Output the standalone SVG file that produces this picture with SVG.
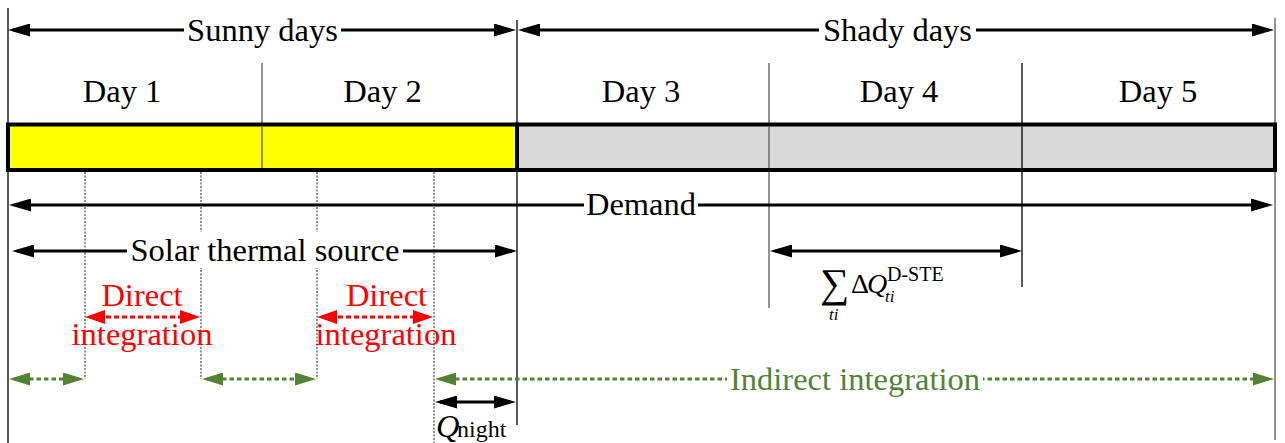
<svg xmlns="http://www.w3.org/2000/svg" width="1285" height="443" viewBox="0 0 1285 443">
  <style>
    .t { font-family: "Liberation Serif", "Times New Roman", serif; font-size: 32.5px; fill: #000; }
    .red { fill: #ff0000; }
    .grn { fill: #548235; }
    .mid { text-anchor: middle; }
    .it { font-style: italic; }
    .bg { fill: #fff; }
    .edge { stroke: #000; stroke-width: 1.3; fill: none; }
    .div { stroke: #595959; stroke-width: 1.3; fill: none; }
    .dot { stroke: #222; stroke-width: 1; stroke-dasharray: 2 1.5; fill: none; }
    .blk { stroke: #000; stroke-width: 3; fill: none; marker-start: url(#ahBlack); marker-end: url(#ahBlack); }
    .rdl { stroke: #ff0000; stroke-width: 3.2; stroke-dasharray: 5 3; fill: none; marker-start: url(#ahRed); marker-end: url(#ahRed); }
    .gnl { stroke: #548235; stroke-width: 3; stroke-dasharray: 4.5 3; fill: none; marker-start: url(#ahGreen); marker-end: url(#ahGreen); }
    .sig { font-size: 41px; }
    .big { font-size: 28px; }
    .sub { font-size: 17px; }
    .sup { font-size: 20px; }
    .nt { font-size: 24px; }
  </style>
  <defs>
    <marker id="ahBlack" markerUnits="userSpaceOnUse" markerWidth="22" markerHeight="13" refX="17" refY="6.5" orient="auto-start-reverse">
      <path d="M0,0 L22,6.5 L0,13 z" fill="#000"/>
    </marker>
    <marker id="ahRed" markerUnits="userSpaceOnUse" markerWidth="20" markerHeight="14" refX="15" refY="7" orient="auto-start-reverse">
      <path d="M0,0 L20,7 L0,14 z" fill="#ff0000"/>
    </marker>
    <marker id="ahGreen" markerUnits="userSpaceOnUse" markerWidth="21" markerHeight="13" refX="16" refY="6.5" orient="auto-start-reverse">
      <path d="M0,0 L21,6.5 L0,13 z" fill="#548235"/>
    </marker>
  </defs>

  <!-- boundary and day lines -->
  <g id="guides">
    <line class="edge" x1="8" y1="8" x2="8" y2="443"/>
    <line class="edge" x1="517" y1="20" x2="517" y2="425"/>
    <line class="div" x1="1275" y1="18" x2="1275" y2="440"/>
    <line class="div" x1="262" y1="63" x2="262" y2="170"/>
    <line class="div" x1="769" y1="63" x2="769" y2="308"/>
    <line class="edge" x1="1022" y1="63" x2="1022" y2="287"/>
    <line class="dot" x1="85" y1="172" x2="85" y2="379"/>
    <line class="dot" x1="201" y1="172" x2="201" y2="379"/>
    <line class="dot" x1="317" y1="172" x2="317" y2="379"/>
    <line class="dot" x1="434" y1="172" x2="434" y2="443"/>
  </g>

  <!-- timeline bar -->
  <g id="bar">
    <rect x="8" y="124.5" width="509" height="45.5" fill="#ffff00" stroke="#000" stroke-width="4"/>
    <rect x="517" y="124.5" width="758" height="45.5" fill="#d9d9d9" stroke="#000" stroke-width="4"/>
    <line class="div" x1="262" y1="126.5" x2="262" y2="168"/>
    <line class="div" x1="769" y1="126.5" x2="769" y2="168"/>
    <line class="edge" x1="1022" y1="126.5" x2="1022" y2="168"/>
  </g>

  <!-- connectors -->
  <g id="connectors">
    <line class="blk" x1="13" y1="30" x2="511" y2="30"/>
    <line class="blk" x1="523" y1="30" x2="1269" y2="30"/>
    <line class="blk" x1="14" y1="205" x2="1268" y2="205"/>
    <line class="blk" x1="17" y1="251" x2="512" y2="251"/>
    <line class="blk" x1="775" y1="251" x2="1017" y2="251"/>
    <line class="blk" x1="440" y1="402" x2="511" y2="402"/>
    <line class="rdl" x1="90" y1="317" x2="195" y2="317"/>
    <line class="rdl" x1="322" y1="317" x2="428" y2="317"/>
    <line class="gnl" x1="14" y1="379" x2="79" y2="379"/>
    <line class="gnl" x1="207" y1="379" x2="311" y2="379"/>
    <line class="gnl" x1="440" y1="379" x2="1269" y2="379"/>
  </g>

  <!-- span labels -->
  <g id="sunny">
    <rect class="bg" x="184" y="16" width="157" height="30"/>
    <text class="t mid" x="262.5" y="41">Sunny days</text>
  </g>
  <g id="shady">
    <rect class="bg" x="819" y="16" width="157" height="30"/>
    <text class="t mid" x="897.5" y="41">Shady days</text>
  </g>
  <g id="days">
    <text class="t mid" x="122" y="102">Day 1</text>
    <text class="t mid" x="382.5" y="102">Day 2</text>
    <text class="t mid" x="641" y="102">Day 3</text>
    <text class="t mid" x="899" y="102">Day 4</text>
    <text class="t mid" x="1158" y="102">Day 5</text>
  </g>
  <g id="demand">
    <rect class="bg" x="584" y="193" width="114" height="24"/>
    <text class="t mid" x="641" y="215">Demand</text>
  </g>
  <g id="solar">
    <rect class="bg" x="127" y="232" width="276" height="36"/>
    <text class="t mid" x="265" y="261">Solar thermal source</text>
  </g>
  <g id="direct1">
    <text class="t mid red" x="142" y="306">Direct</text>
    <text class="t mid red" x="142" y="345">integration</text>
  </g>
  <g id="direct2">
    <text class="t mid red" x="386.5" y="306">Direct</text>
    <text class="t mid red" x="386" y="345">integration</text>
  </g>
  <g id="indirect">
    <rect class="bg" x="727" y="366" width="256" height="26"/>
    <text class="t mid grn" x="855" y="390">Indirect integration</text>
  </g>
  <g id="sum-label">
    <text class="t sig" x="820" y="297">∑</text>
    <text class="t it sub" x="829" y="320">ti</text>
    <text class="t big" x="851" y="293">Δ</text>
    <text class="t it big" x="867" y="293">Q</text>
    <text class="t it sub" x="885" y="302">ti</text>
    <text class="t sup" x="887" y="281">D-STE</text>
  </g>
  <g id="q-night">
    <text class="t it" x="436" y="437">Q</text>
    <text class="t nt" x="457" y="437">night</text>
  </g>
</svg>
